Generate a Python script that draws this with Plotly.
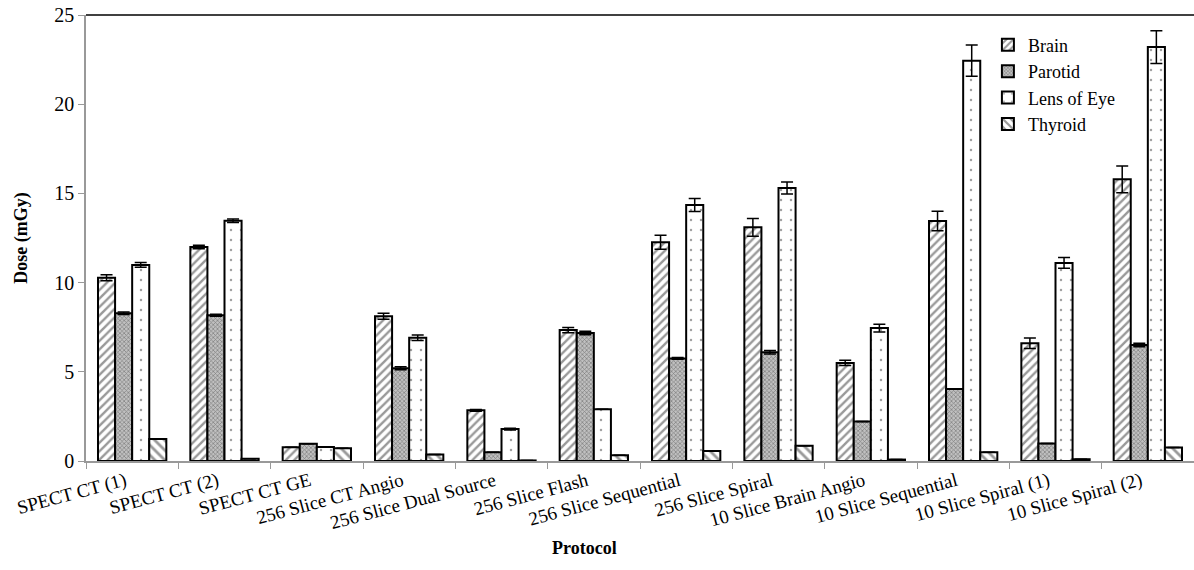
import plotly.graph_objects as go

# Protocols (x categories)
protocols = [
    "SPECT CT (1)", "SPECT CT (2)", "SPECT CT GE", "256 Slice CT Angio",
    "256 Slice Dual Source", "256 Slice Flash", "256 Slice Sequential",
    "256 Slice Spiral", "10 Slice Brain Angio", "10 Slice Sequential",
    "10 Slice Spiral (1)", "10 Slice Spiral (2)",
]

# Mean organ doses (mGy)
brain = [10.27, 12.0, 0.77, 8.11, 2.84, 7.34, 12.26, 13.1, 5.5, 13.45, 6.6, 15.79]
parotid = [8.28, 8.17, 0.97, 5.2, 0.49, 7.17, 5.75, 6.1, 2.22, 4.03, 0.98, 6.5]
lens = [10.99, 13.47, 0.78, 6.91, 1.79, 2.9, 14.35, 15.3, 7.45, 22.44, 11.1, 23.2]
thyroid = [1.23, 0.13, 0.71, 0.36, 0.03, 0.32, 0.56, 0.86, 0.08, 0.49, 0.1, 0.75]

# Standard deviations (mGy)
brain_err = [0.17, 0.1, 0.0, 0.17, 0.05, 0.15, 0.39, 0.5, 0.15, 0.55, 0.3, 0.75]
parotid_err = [0.07, 0.05, 0.0, 0.08, 0.0, 0.1, 0.05, 0.1, 0.0, 0.0, 0.0, 0.1]
lens_err = [0.13, 0.1, 0.0, 0.15, 0.05, 0.0, 0.37, 0.34, 0.22, 0.88, 0.3, 0.92]
thyroid_err = [0.0] * 12

y_ticks = [0, 5, 10, 15, 20, 25]

FONT = "Times New Roman, Liberation Serif, serif"

series = [
    ("Brain", brain, brain_err,
     dict(shape="/", fgcolor="#333333", bgcolor="white", size=6, solidity=0.4)),
    ("Parotid", parotid, parotid_err,
     dict(shape="x", fgcolor="#3a3a3a", bgcolor="#c0c0c0", size=3, solidity=0.4)),
    ("Lens of Eye", lens, lens_err,
     dict(shape=".", fgcolor="#444444", bgcolor="white", size=10, solidity=0.05)),
    ("Thyroid", thyroid, thyroid_err,
     dict(shape="\\", fgcolor="#333333", bgcolor="white", size=7, solidity=0.4)),
]

fig = go.Figure()
for name, vals, errs, pat in series:
    fig.add_trace(go.Bar(
        name=name,
        x=protocols,
        y=vals,
        error_y=dict(type="data", array=errs, visible=True,
                     color="black", thickness=1.5, width=6),
        marker=dict(color="white", pattern=pat,
                    line=dict(color="black", width=2)),
    ))

fig.update_layout(
    width=1194, height=570,
    margin=dict(l=86, r=0, t=15, b=109),
    paper_bgcolor="white", plot_bgcolor="white",
    barmode="group", bargap=0.26, bargroupgap=0,
    font=dict(family=FONT, size=19, color="black"),
    showlegend=True,
    legend=dict(x=0.814, y=0.974, xanchor="left", yanchor="top",
                bgcolor="rgba(0,0,0,0)",
                font=dict(family=FONT, size=18, color="black"),
                tracegroupgap=0, itemwidth=30),
    xaxis=dict(
        showline=True, linecolor="#999999", linewidth=1.5,
        ticks="outside", tickson="boundaries", ticklen=6,
        tickcolor="#999999", tickangle=-15, ticklabelshift=-7,
        tickfont=dict(family=FONT, size=19, color="black"), showgrid=False,
    ),
    yaxis=dict(
        range=[0, 25], tickvals=y_ticks,
        showline=True, linecolor="#999999", linewidth=1.5,
        ticks="outside", ticklen=6, tickcolor="#999999",
        tickfont=dict(family=FONT, size=20, color="black"),
        showgrid=False, zeroline=False,
        title=dict(text="<b>Dose (mGy)</b>",
                   font=dict(family=FONT, size=18, color="black"), standoff=22),
    ),
    annotations=[
        dict(text="<b>Protocol</b>", xref="paper", yref="paper",
             x=(584 - 86) / 1108, y=0, yshift=-87, showarrow=False,
             xanchor="center", yanchor="middle",
             font=dict(family=FONT, size=18, color="black")),
    ],
    shapes=[
        dict(type="line", xref="paper", yref="paper", x0=0, x1=1, y0=1, y1=1,
             line=dict(color="black", width=1.5)),
    ],
)

fig.write_html("out.html")
